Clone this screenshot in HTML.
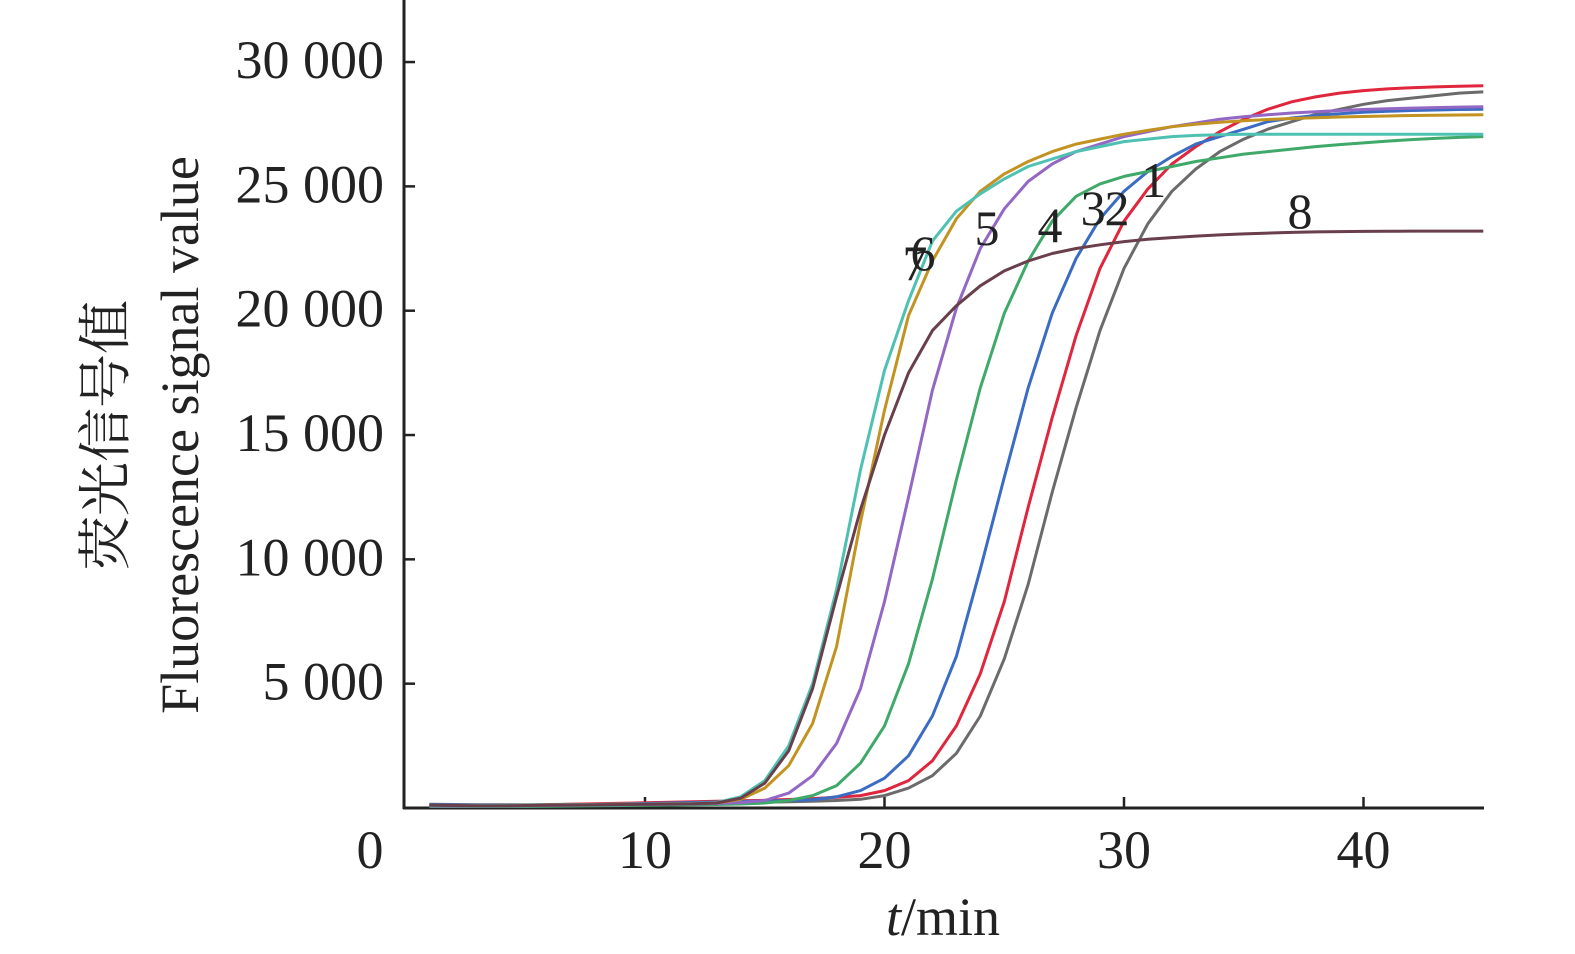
<!DOCTYPE html>
<html><head><meta charset="utf-8"><style>
html,body{margin:0;padding:0;background:#fff;}
svg{display:block;font-family:"Liberation Serif","Noto Serif CJK SC",serif;}
</style></head><body>
<svg id="chart" width="1575" height="954" viewBox="0 0 1575 954" xmlns="http://www.w3.org/2000/svg">
<g id="axes"></g>
<g id="series"></g>
<g id="labels"></g>
<text transform="translate(124,435) rotate(-90)" text-anchor="middle" font-size="54" fill="#222" font-family="'Noto Serif CJK SC','Noto Sans CJK SC',serif">荧光信号值</text>
<text transform="translate(198,435) rotate(-90)" text-anchor="middle" font-size="54" fill="#222">Fluorescence signal value</text>
<text x="943" y="935" text-anchor="middle" font-size="54" fill="#222"><tspan font-style="italic">t</tspan>/min</text>
</svg>
<script>
const minutes = [1,2,3,4,5,6,7,8,9,10,11,12,13,14,15,16,17,18,19,20,21,22,23,24,25,26,27,28,29,30,31,32,33,34,35,36,37,38,39,40,41,42,43,44,45];
const seriesNames = ["1","2","3","4","5","6","7","8"];
const colors = ["#6b6b6b","#e0263c","#3b6cc4","#3fa96a","#9367c4","#c39322","#4fc1b3","#6a3f4c"];
const s1 = [150,140,130,130,130,140,150,160,170,180,190,200,210,220,230,250,270,300,350,500,800,1300,2200,3700,6000,9000,12700,16100,19200,21700,23500,24800,25700,26400,26900,27300,27600,27900,28100,28300,28450,28550,28650,28750,28800];
const s2 = [120,110,100,100,110,130,150,170,190,210,230,250,270,290,310,340,380,430,500,700,1100,1900,3300,5400,8300,12100,15700,19000,21700,23600,24900,25900,26600,27200,27700,28100,28400,28600,28750,28850,28920,28970,29000,29030,29050];
const s3 = [130,120,110,110,110,120,130,140,160,180,200,220,240,260,280,300,330,450,700,1200,2100,3700,6100,9600,13300,16900,19900,22100,23700,24800,25600,26200,26700,27000,27300,27600,27750,27850,27920,27980,28020,28050,28070,28090,28100];
const s4 = [60,60,60,60,60,70,80,90,100,110,120,130,140,160,200,300,500,900,1800,3300,5800,9200,13200,16900,19900,22000,23600,24600,25100,25400,25600,25800,26000,26150,26300,26400,26500,26600,26680,26750,26820,26880,26930,26970,27000];
const s5 = [80,80,80,80,90,100,110,120,130,140,150,160,180,220,300,600,1300,2600,4800,8300,12500,16800,20100,22500,24100,25200,25900,26400,26700,27000,27200,27400,27550,27700,27800,27880,27950,28000,28050,28090,28120,28150,28170,28190,28200];
const s6 = [100,100,100,100,110,120,130,140,150,160,170,180,200,350,800,1700,3400,6500,11500,16000,19800,22000,23700,24800,25500,26000,26400,26700,26900,27100,27250,27400,27500,27580,27640,27690,27730,27760,27790,27810,27830,27850,27860,27870,27880];
const s7 = [100,100,100,100,110,120,130,140,150,160,170,180,220,450,1100,2500,5000,8800,13600,17600,20400,22800,24000,24700,25300,25800,26100,26400,26600,26800,26900,27000,27050,27080,27100,27100,27100,27100,27100,27100,27100,27100,27100,27100,27100];
const s8 = [110,100,90,90,100,110,120,130,140,150,160,170,200,400,1000,2300,4800,8500,12000,15000,17500,19200,20200,21000,21600,22000,22300,22500,22650,22780,22870,22940,23000,23050,23090,23120,23150,23170,23180,23190,23195,23200,23200,23200,23200];
const allSeries = [s1,s2,s3,s4,s5,s6,s7,s8];
const xTicks = [10,20,30,40];
const yTicks = [5000,10000,15000,20000,25000,30000];
const yTickLabels = ["5 000","10 000","15 000","20 000","25 000","30 000"];
const labelPos = [[31.24,24574],[29.71,23443],[28.71,23443],[26.91,22760],[24.28,22640],[21.61,21637],[21.27,21235],[37.35,23326]];

const NS="http://www.w3.org/2000/svg";
const X0=405.5, XS=23.95, Y0=808, YS=0.024865;
function xs(v){return X0+v*XS;}
function ys(v){return Y0-v*YS;}
function mk(tag,attrs,parent){const e=document.createElementNS(NS,tag);for(const k in attrs)e.setAttribute(k,attrs[k]);parent.appendChild(e);return e;}

const axes=document.getElementById('axes');
let yl=mk('line',{x1:404,y1:0,x2:404,y2:809,stroke:'#222','stroke-width':3},axes);


let xl=mk('line',{x1:403,y1:808,x2:1484,y2:808,stroke:'#222','stroke-width':3},axes);


let z=mk('text',{x:370,y:868,'text-anchor':'middle','font-size':54,fill:'#222'},axes);
z.textContent='0';


xTicks.forEach(t=>{
  let l=mk('line',{x1:xs(t),y1:808,x2:xs(t),y2:797,stroke:'#222','stroke-width':2.5},axes);
  
  
  let tx=mk('text',{x:xs(t),y:868,'text-anchor':'middle','font-size':54,fill:'#222'},axes);
  tx.textContent=String(t);
  
  
});
yTicks.forEach((t,i)=>{
  let l=mk('line',{x1:404,y1:ys(t),x2:415,y2:ys(t),stroke:'#222','stroke-width':2.5},axes);
  
  
  let tx=mk('text',{x:384,y:ys(t)+16,'text-anchor':'end','font-size':54,fill:'#222'},axes);
  tx.textContent=yTickLabels[i];
  
  
});
const sg=document.getElementById('series');
allSeries.forEach((s,i)=>{
  const d=s.map((v,j)=>(j?'L':'M')+xs(minutes[j]).toFixed(1)+','+ys(v).toFixed(1)).join(' ');
  let p=mk('path',{d:d,fill:'none',stroke:colors[i],'stroke-width':3,'stroke-linejoin':'round'},sg);
  
  
});
const lg=document.getElementById('labels');
labelPos.forEach((p,i)=>{
  let t=mk('text',{x:xs(p[0]),y:ys(p[1]),'text-anchor':'middle','font-size':50,fill:'#222'},lg);
  t.textContent=seriesNames[i];
  
  
});
</script>
</body></html>
